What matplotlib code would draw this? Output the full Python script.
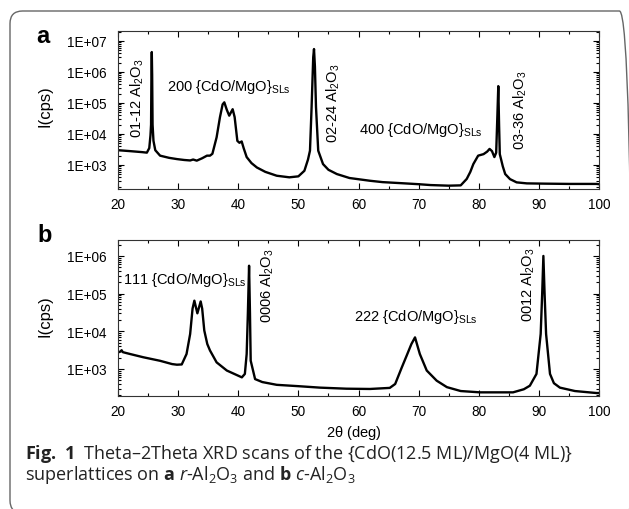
import numpy as np
import matplotlib
matplotlib.use('Agg')
import matplotlib.pyplot as plt
from matplotlib.ticker import MultipleLocator, LogLocator, FixedLocator, FixedFormatter
from matplotlib.patches import FancyBboxPatch

plt.rcParams['font.family'] = ['Liberation Sans', 'DejaVu Sans']
plt.rcParams['mathtext.fontset'] = 'custom'
plt.rcParams['mathtext.rm'] = 'Open Sans'
plt.rcParams['mathtext.it'] = 'Open Sans:italic'
plt.rcParams['mathtext.bf'] = 'Open Sans:bold'

# panel a: {CdO/MgO} SLs on r-Al2O3
two_theta_a = [20.0, 22.0, 24.0, 24.8, 25.2, 25.4, 25.5, 25.56, 25.62, 25.68, 25.75, 25.9,
               26.2, 27.0, 28.5, 29.8, 31.0, 32.0, 32.5, 33.1, 34.0, 34.8, 35.3, 35.7,
               36.4, 36.96, 37.4, 37.68, 38.1, 38.5, 39.07, 39.4, 39.85, 40.2, 40.57, 40.9,
               41.4, 42.2, 43.1, 44.5, 46.4, 48.5, 50.0, 51.0, 51.6, 51.93, 52.2, 52.47,
               52.6, 52.75, 52.93, 53.3, 54.1, 55.0, 56.4, 58.5, 61.9, 64.0, 67.4, 70.0,
               72.0, 75.0, 77.0, 78.0, 78.6, 79.1, 79.9, 80.8, 81.4, 81.8, 82.2, 82.6,
               82.9, 83.1, 83.25, 83.38, 83.5, 84.0, 84.4, 85.2, 86.3, 88.0, 91.0, 95.0,
               99.6, 100.0]
counts_a = [3000, 2800, 2600, 2500, 3500, 9000, 20000, 8e5, 4.4e6, 8e5, 20000, 6000,
            3000, 2000, 1700, 1550, 1450, 1400, 1500, 1380, 1650, 2000, 2000, 2300,
            7800, 35000, 90000, 105000, 60000, 39000, 63000, 35000, 6000, 5200, 5750, 3500,
            1800, 1150, 830, 600, 450, 400, 430, 650, 1500, 2900, 74000, 3.0e6,
            5.5e6, 1.5e6, 74000, 2900, 1070, 700, 510, 380, 310, 280, 257, 240,
            225, 215, 220, 355, 600, 1070, 2000, 2240, 2700, 3300, 2800, 1800,
            2500, 40000, 3.5e5, 20000, 2240, 900, 510, 350, 275, 255, 250, 245,
            245, 240]

# panel b: {CdO/MgO} SLs on c-Al2O3
two_theta_b = [20.0, 20.4, 20.6, 20.8, 22.0, 24.2, 27.0, 29.0, 29.8, 30.6, 31.4, 32.0,
               32.4, 32.7, 33.2, 33.75, 34.0, 34.35, 34.85, 35.3, 36.4, 38.1, 40.6, 41.1,
               41.4, 41.6, 41.8, 41.95, 42.07, 42.8, 44.0, 46.4, 50.0, 53.6, 58.0, 61.9,
               65.2, 66.1, 67.2, 68.0, 68.8, 69.4, 70.2, 71.35, 73.0, 74.7, 77.0, 80.2,
               85.7, 87.5, 88.5, 89.6, 90.3, 90.55, 90.75, 90.95, 91.2, 91.85, 92.5, 93.5,
               96.0, 99.6, 100.0]
counts_b = [2750, 2900, 3150, 2800, 2500, 2050, 1650, 1350, 1300, 1320, 2500, 8500,
            40000, 65000, 30000, 62000, 40000, 10500, 4600, 3100, 1500, 910, 600, 740,
            2500, 30000, 5.5e5, 30000, 1660, 540, 450, 380, 350, 320, 300, 295,
            315, 400, 1100, 2240, 4600, 6900, 2500, 910, 490, 330, 260, 240,
            240, 290, 360, 740, 8500, 1e5, 1.0e6, 1e5, 8500, 740, 420, 320,
            260, 230, 230]

ticks_a = [1e3, 1e4, 1e5, 1e6, 1e7]
tick_labels_a = ['1E+03', '1E+04', '1E+05', '1E+06', '1E+07']
ticks_b = [1e3, 1e4, 1e5, 1e6]
tick_labels_b = ['1E+03', '1E+04', '1E+05', '1E+06']

W, H = 629, 510
fig = plt.figure(figsize=(W / 100, H / 100), dpi=100)


def px(x, y):
    return x / W, 1 - y / H


sub2 = r'$\mathregular{_2}$'
sub3 = r'$\mathregular{_3}$'
sls = r'$\mathregular{_{SLs}}$'
al2o3 = 'Al' + sub2 + 'O' + sub3

ax_a = fig.add_axes([118 / W, 1 - 190 / H, 481 / W, 158 / H])
ax_b = fig.add_axes([118 / W, 1 - 397 / H, 481 / W, 156 / H])

for ax, tt, cc, ylim, ticks, labels in [
        (ax_a, two_theta_a, counts_a, (168, 2.1e7), ticks_a, tick_labels_a),
        (ax_b, two_theta_b, counts_b, (192, 2.65e6), ticks_b, tick_labels_b)]:
    ax.plot(tt, cc, color='black', lw=1.7)
    ax.set_yscale('log')
    ax.set_xlim(20, 100)
    ax.set_ylim(*ylim)
    ax.xaxis.set_major_locator(MultipleLocator(10))
    ax.xaxis.set_minor_locator(MultipleLocator(5))
    ax.yaxis.set_major_locator(FixedLocator(ticks))
    ax.yaxis.set_major_formatter(FixedFormatter(labels))
    ax.yaxis.set_minor_locator(LogLocator(base=10, subs=np.arange(2, 10)))
    ax.yaxis.set_minor_formatter(plt.NullFormatter())
    ax.tick_params(which='both', direction='in', top=True, right=True,
                   labelsize=9.8, width=0.8, colors='black')
    ax.tick_params(which='major', length=4)
    ax.tick_params(which='minor', length=2.2)
    ax.tick_params(axis='y', pad=8)
    ax.tick_params(axis='x', pad=6)
    for s in ax.spines.values():
        s.set_linewidth(0.8)
        s.set_color('#333333')

ann = dict(fontsize=10.5, color='black')
ax_a.text(23.2, 8000, '01-12 ' + al2o3, rotation=90, ha='center', va='bottom', **ann)
ax_a.text(28.1, 3.5e5, '200 {CdO/MgO}' + sls, ha='left', va='center', **ann)
ax_a.text(55.77, 5500, '02-24 ' + al2o3, rotation=90, ha='center', va='bottom', **ann)
ax_a.text(60.1, 14500, '400 {CdO/MgO}' + sls, ha='left', va='center', **ann)
ax_a.text(86.86, 3300, '03-36 ' + al2o3, rotation=90, ha='center', va='bottom', **ann)

ax_b.text(20.83, 2.4e5, '111 {CdO/MgO}' + sls, ha='left', va='center', **ann)
ax_b.text(44.78, 17700, '0006 ' + al2o3, rotation=90, ha='center', va='bottom', **ann)
ax_b.text(59.25, 25000, '222 {CdO/MgO}' + sls, ha='left', va='center', **ann)
ax_b.text(88.2, 18700, '0012 ' + al2o3, rotation=90, ha='center', va='bottom', **ann)

fig.text(*px(45, 106), 'I(cps)', rotation=90, ha='center', va='center', fontsize=12)
fig.text(*px(45, 316), 'I(cps)', rotation=90, ha='center', va='center', fontsize=12)
fig.text(*px(354, 433), r'2$\mathregular{\theta}$ (deg)', ha='center', va='center', fontsize=10.5)
fig.text(*px(43, 43), 'a', ha='center', va='baseline', fontsize=17, fontweight='bold')
fig.text(*px(45, 242), 'b', ha='center', va='baseline', fontsize=17, fontweight='bold')

cap = dict(fontsize=13, family='Open Sans', color='#222222')
fig.text(*px(25, 459), r'$\mathbf{Fig.\ 1}$  Theta–2Theta XRD scans of the {CdO(12.5 ML)/MgO(4 ML)}',
         ha='left', va='baseline', **cap)
fig.text(*px(25, 480), r'superlattices on $\mathbf{a}$ $\mathit{r}$-Al$\mathregular{_2}$O$\mathregular{_3}$ '
         r'and $\mathbf{b}$ $\mathit{c}$-Al$\mathregular{_2}$O$\mathregular{_3}$',
         ha='left', va='baseline', **cap)

# rounded frame, right and bottom edges just outside the picture
box = FancyBboxPatch((10 / W, -4 / H), 622 / W, 502 / H,
                     boxstyle='round,pad=0,rounding_size=0.02', transform=fig.transFigure,
                     fill=False, edgecolor='#666666', lw=1.0, mutation_aspect=W / H)
fig.patches.append(box)

fig.savefig('out.png', dpi=100)
